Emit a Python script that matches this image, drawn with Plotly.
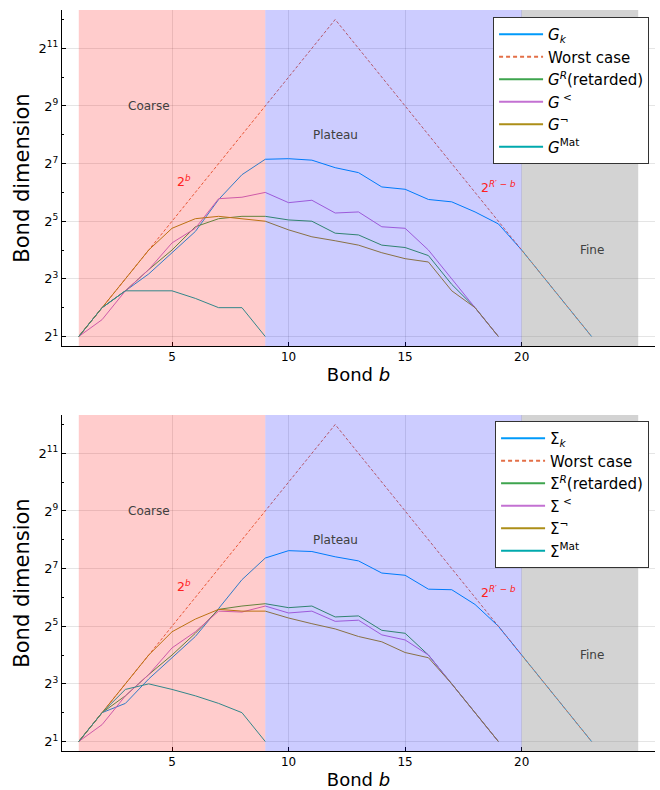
import math
import plotly.graph_objects as go

# ---------------- data ----------------
bonds_full = list(range(1, 24))      # 1..23
bonds_mid = list(range(1, 20))       # 1..19
bonds_mat = list(range(1, 10))       # 1..9

worst_case = [2, 4, 8, 16, 32, 64, 128, 256, 512, 1024, 2048, 4096,
              2048, 1024, 512, 256, 128, 64, 32, 16, 8, 4, 2]

# top panel (G)
G_k = [2, 4, 6, 9, 15, 25, 54, 98, 142, 144, 139, 116, 103, 73, 69, 54, 51, 40, 30, 16, 8, 4, 2]
G_R = [2, 4, 6, 10, 16, 28, 34, 36, 36, 33, 32, 24, 23, 18, 17, 14, 7, 4, 2]
G_less = [2, 3, 6, 10, 19, 27, 55, 57, 64, 50, 53, 39, 40, 28, 27, 16, 8, 4, 2]
G_neg = [2, 4, 8, 16, 27, 34, 36, 34, 32, 26, 22, 20, 18, 15, 13, 12, 6, 4, 2]
G_mat = [2, 4, 6, 6, 6, 5, 4, 4, 2]

# bottom panel (Sigma)
S_k = [2, 4, 5, 9, 15, 25, 49, 98, 165, 197, 193, 170, 154, 115, 109, 78, 77, 54, 32, 16, 8, 4, 2]
S_R = [2, 4, 6, 10, 16, 27, 48, 52, 55, 50, 52, 40, 41, 29, 27, 16, 8, 4, 2]
S_less = [2, 3, 6, 10, 19, 28, 46, 45, 52, 44, 46, 36, 37, 26, 23, 16, 8, 4, 2]
S_neg = [2, 4, 8, 16, 28, 38, 48, 46, 46, 39, 34, 30, 25, 22, 17, 15, 8, 4, 2]
S_mat = [2, 4, 7, 8, 7, 6, 5, 4, 2]

regions = [(1, 9, "rgba(255,0,0,0.2)"), (9, 20, "rgba(0,0,255,0.2)"), (20, 25, "rgba(128,128,128,0.35)")]
region_labels = [("Coarse", 4, 512), ("Plateau", 12, 256), ("Fine", 23, 16)]

ytick_vals = [2, 8, 32, 128, 512, 2048]
ytick_text = ["2<sup>1</sup>", "2<sup>3</sup>", "2<sup>5</sup>", "2<sup>7</sup>", "2<sup>9</sup>", "2<sup>11</sup>"]
yminor_vals = [4, 16, 64, 256, 1024, 4096]
xtick_vals = [5, 10, 15, 20]

C_BLUE = "#009AFA"
C_ORANGE = "#E36F47"
C_GREEN = "#3EA44E"
C_PURPLE = "#C371D2"
C_OLIVE = "#AC8E18"
C_TEAL = "#00A9AD"

FONT = "DejaVu Sans"

fig = go.Figure()

panels = [
    dict(xa="x", ya="y", legend="legend", tag="g",
         names=["<i>G</i><sub><i>k</i></sub>", "Worst case", "<i>G</i><sup><i>R</i></sup>(retarded)",
                "<i>G</i><sup> &lt;</sup>", "<i>G</i><sup>¬</sup>", "<i>G</i><sup>Mat</sup>"],
         k=G_k, R=G_R, less=G_less, neg=G_neg, mat=G_mat),
    dict(xa="x2", ya="y2", legend="legend2", tag="s",
         names=["Σ<sub><i>k</i></sub>", "Worst case", "Σ<sup><i>R</i></sup>(retarded)",
                "Σ<sup> &lt;</sup>", "Σ<sup>¬</sup>", "Σ<sup>Mat</sup>"],
         k=S_k, R=S_R, less=S_less, neg=S_neg, mat=S_mat),
]

for p in panels:
    n = p["names"]
    series = [
        (bonds_full, p["k"], C_BLUE, "solid"),
        (bonds_full, worst_case, C_ORANGE, "3px,2px"),
        (bonds_mid, p["R"], C_GREEN, "solid"),
        (bonds_mid, p["less"], C_PURPLE, "solid"),
        (bonds_mid, p["neg"], C_OLIVE, "solid"),
        (bonds_mat, p["mat"], C_TEAL, "solid"),
    ]
    for i, (xs, ys, col, dash) in enumerate(series):
        grp = f"{p['tag']}{i}"
        # data line (drawn thin, underneath the region shading)
        fig.add_trace(go.Scatter(x=xs, y=ys, name=n[i], line=dict(color=col, width=1, dash=dash), mode="lines",
                                 xaxis=p["xa"], yaxis=p["ya"], legend=p["legend"],
                                 legendgroup=grp, showlegend=False))
        # legend entry with a slightly bolder sample line
        fig.add_trace(go.Scatter(x=[None], y=[None], name=n[i],
                                 line=dict(color=col, width=2, dash="4px,3px" if dash != "solid" else "solid"),
                                 mode="lines", xaxis=p["xa"], yaxis=p["ya"], legend=p["legend"],
                                 legendgroup=grp, showlegend=True))

    for (x0, x1, col) in regions:
        fig.add_shape(type="rect", xref=p["xa"], yref=p["ya"] + " domain", x0=x0, x1=x1, y0=0, y1=1,
                      fillcolor=col, line=dict(width=0), layer="above")
    for (txt, xv, yv) in region_labels:
        fig.add_annotation(x=xv, y=math.log10(yv), xref=p["xa"], yref=p["ya"], text=txt, showarrow=False,
                           font=dict(family=FONT, size=12, color="#404040"))
    fig.add_annotation(x=5.5, y=math.log10(2 ** 6.4), xref=p["xa"], yref=p["ya"], text="2<sup><i>b</i></sup>",
                       showarrow=False, font=dict(family=FONT, size=12.5, color="#ff2020"))
    fig.add_annotation(x=19, y=math.log10(2 ** 6.2), xref=p["xa"], yref=p["ya"],
                       text="2<sup><i>R</i>′ − <i>b</i></sup>",
                       showarrow=False, font=dict(family=FONT, size=12.5, color="#ff2020"))

xaxis_common = dict(range=[0.28, 25.72], tickvals=xtick_vals, ticks="inside", ticklen=4, tickcolor="black",
                    showline=True, linecolor="black", linewidth=1, showgrid=True, gridcolor="rgba(0,0,0,0.1)",
                    zeroline=False, tickfont=dict(family=FONT, size=12, color="black"),
                    title=dict(text="Bond <i>b</i>", font=dict(family=FONT, size=18, color="black"), standoff=4),
                    automargin=False)
yaxis_common = dict(type="log", range=[0.67 * math.log10(2), 12.33 * math.log10(2)],
                    tickvals=ytick_vals, ticktext=ytick_text, ticks="inside", ticklen=4, tickcolor="black",
                    minor=dict(tickvals=yminor_vals, ticks="inside", ticklen=2, tickcolor="black", showgrid=False),
                    showline=True, linecolor="black", linewidth=1, showgrid=True, gridcolor="rgba(0,0,0,0.1)",
                    zeroline=False, tickfont=dict(family=FONT, size=13, color="black"),
                    title=dict(text="Bond dimension", font=dict(family=FONT, size=21, color="black"), standoff=3),
                    automargin=False)

H = 790
legend_common = dict(bgcolor="white", bordercolor="#333", borderwidth=1, itemwidth=44, tracegroupgap=0,
                     font=dict(family=FONT, size=15, color="black"), xanchor="right", yanchor="top", x=0.99)

fig.update_layout(
    width=660, height=H,
    margin=dict(l=62, r=5, t=0, b=0),
    paper_bgcolor="white", plot_bgcolor="white",
    font=dict(family=FONT),
    xaxis=dict(domain=[0, 1], anchor="y", **xaxis_common),
    yaxis=dict(domain=[1 - 346 / H, 1 - 10 / H], anchor="x", **yaxis_common),
    xaxis2=dict(domain=[0, 1], anchor="y2", **xaxis_common),
    yaxis2=dict(domain=[1 - 751 / H, 1 - 415 / H], anchor="x2", **yaxis_common),
    legend=dict(y=1 - 17 / H, **legend_common),
    legend2=dict(y=1 - 421 / H, **legend_common),
    showlegend=True,
)

fig.write_html("out.html")
